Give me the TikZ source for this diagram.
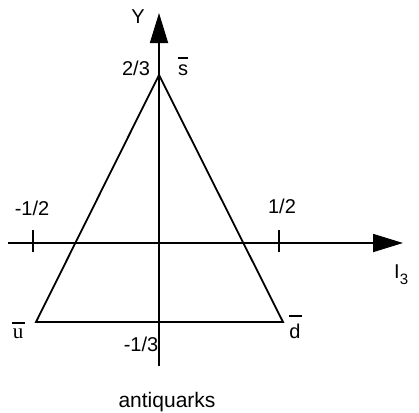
\documentclass[tikz,border=0pt]{standalone}
\usepackage{fontspec}
\setmainfont{Liberation Sans}
\newfontfamily\serifu{Liberation Serif}
\usetikzlibrary{arrows.meta}
\begin{document}
\begin{tikzpicture}[x=1pt,y=-1pt,
  lbl/.style={inner sep=0pt,font=\fontsize{20}{22}\selectfont},
  axis/.style={line width=1.8pt,-{Triangle[length=30pt,width=18pt]}},
  edge/.style={line width=1.8pt,line join=miter},
  tick/.style={line width=1.8pt},
  barline/.style={inner sep=0pt,minimum width=#1,minimum height=1.5pt,fill}]
\useasboundingbox (0,0) rectangle (419,412);
% axes
\coordinate (ybot) at (159,366);
\coordinate (ytop) at (159,13);
\coordinate (xl) at (8,243);
\coordinate (xr) at (403,243);
\draw[axis] (ybot) -- (ytop);
\draw[axis] (xl) -- (xr);
% ticks
\coordinate (t1a) at (33,230); \coordinate (t1b) at (33,252);
\coordinate (t2a) at (279,230); \coordinate (t2b) at (279,252);
\draw[tick] (t1a) -- (t1b);
\draw[tick] (t2a) -- (t2b);
% triangle
\coordinate (s) at (159,75);
\coordinate (u) at (36,322);
\coordinate (d) at (283,322);
\draw[edge] (s) -- (u) -- (d) -- cycle;
% labels
\node[lbl] (ylab) at (138,17) {Y};
\node[lbl] (l23) at (136,68) {2/3};
\node[lbl,anchor=base] (sbar) at (183,75) {s};
\node[barline=10pt] (sbarline) at (183,58) {};
\node[lbl] (lm12) at (32,208) {-1/2};
\node[lbl] (l12) at (282,206) {1/2};
\node[lbl,anchor=base west] (i3) at (394,278) {I\raisebox{-0.3em}{\fontsize{15}{16}\selectfont 3}};
\node[inner sep=0pt,anchor=base] (ubar) at (18,338) {\serifu\fontsize{21}{22}\selectfont u};
\node[barline=13pt] (ubarline) at (18,323) {};
\node[lbl,anchor=base] (dbar) at (295,338) {d};
\node[barline=13pt] (dbarline) at (295,316) {};
\node[lbl] (lm13) at (141,344) {-1/3};
\node[lbl,font=\fontsize{21}{22}\selectfont] (cap) at (167,402) {antiquarks};
\end{tikzpicture}
\end{document}
